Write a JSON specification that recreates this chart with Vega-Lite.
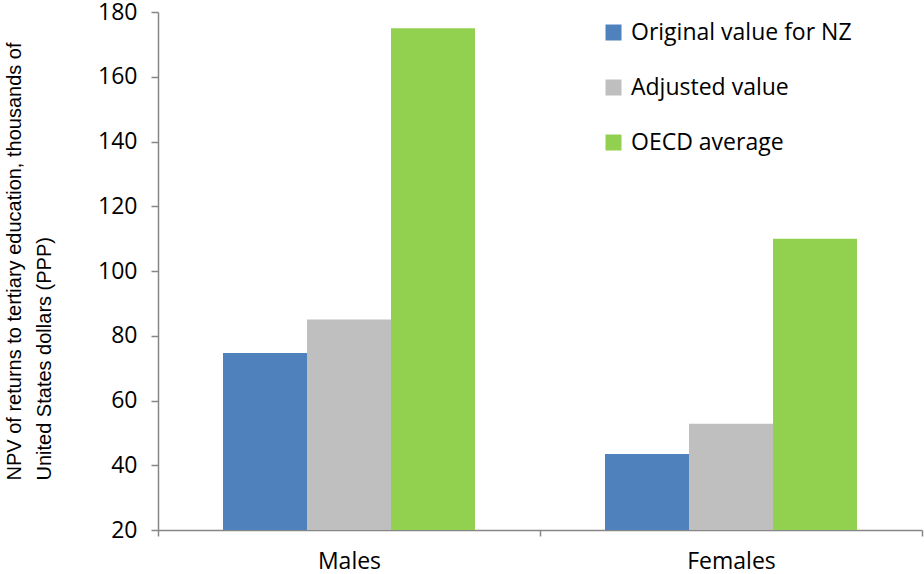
{
  "$schema": "https://vega.github.io/schema/vega-lite/v6.json",
  "width": 764,
  "height": 518,
  "autosize": {"type": "none"},
  "padding": {"left": 158, "top": 12, "right": 2, "bottom": 44},
  "background": "white",
  "data": {
    "values": [
      {"sex": "Males", "series": "Original value for NZ", "value": 74.7},
      {"sex": "Males", "series": "Adjusted value", "value": 85},
      {"sex": "Males", "series": "OECD average", "value": 175},
      {"sex": "Females", "series": "Original value for NZ", "value": 43.5},
      {"sex": "Females", "series": "Adjusted value", "value": 52.8},
      {"sex": "Females", "series": "OECD average", "value": 110}
    ]
  },
  "config": {
    "view": {"stroke": null},
    "axis": {"domainColor": "#868686", "tickColor": "#868686", "grid": false, "labelColor": "#000000"}
  },
  "mark": {"type": "bar"},
  "encoding": {
    "x": {
      "field": "sex",
      "type": "nominal",
      "sort": ["Males", "Females"],
      "scale": {"paddingInner": 0, "paddingOuter": 0},
      "axis": {
        "title": null,
        "labelAngle": 0,
        "tickBand": "extent",
        "tickSize": 6,
        "labelPadding": 14,
        "labelFont": "Open Sans",
        "labelFontSize": 23,
        "domainWidth": 1.5,
        "tickWidth": 1.5
      }
    },
    "xOffset": {
      "field": "series",
      "type": "nominal",
      "sort": ["Original value for NZ", "Adjusted value", "OECD average"],
      "scale": {"paddingInner": 0, "paddingOuter": 0.774}
    },
    "y": {
      "field": "value",
      "type": "quantitative",
      "scale": {"domain": [20, 180], "nice": false, "zero": false},
      "axis": {
        "values": [20, 40, 60, 80, 100, 120, 140, 160, 180],
        "tickSize": 7,
        "labelPadding": 14,
        "labelFont": "Open Sans",
        "labelFontSize": 23,
        "domainWidth": 1.5,
        "tickWidth": 1.5,
        "title": ["NPV of returns to tertiary education, thousands of", "United States dollars (PPP)"],
        "titleFont": "Liberation Sans",
        "titleFontSize": 20,
        "titleFontWeight": "normal",
        "titleColor": "#000000",
        "titleAngle": -90,
        "titleAlign": "left",
        "titleBaseline": "top",
        "titleLineHeight": 30,
        "titleX": -154,
        "titleY": 468
      }
    },
    "y2": {"datum": 20},
    "color": {
      "field": "series",
      "type": "nominal",
      "sort": ["Original value for NZ", "Adjusted value", "OECD average"],
      "scale": {
        "domain": ["Original value for NZ", "Adjusted value", "OECD average"],
        "range": ["#4F81BD", "#BFBFBF", "#92D050"]
      },
      "legend": {
        "title": null,
        "orient": "none",
        "legendX": 444,
        "legendY": 9,
        "symbolType": "square",
        "symbolSize": 256,
        "symbolStrokeWidth": 0,
        "labelFont": "Open Sans",
        "labelFontSize": 23,
        "labelColor": "#000000",
        "labelOffset": 6,
        "rowPadding": 31,
        "labelLimit": 400
      }
    }
  }
}
